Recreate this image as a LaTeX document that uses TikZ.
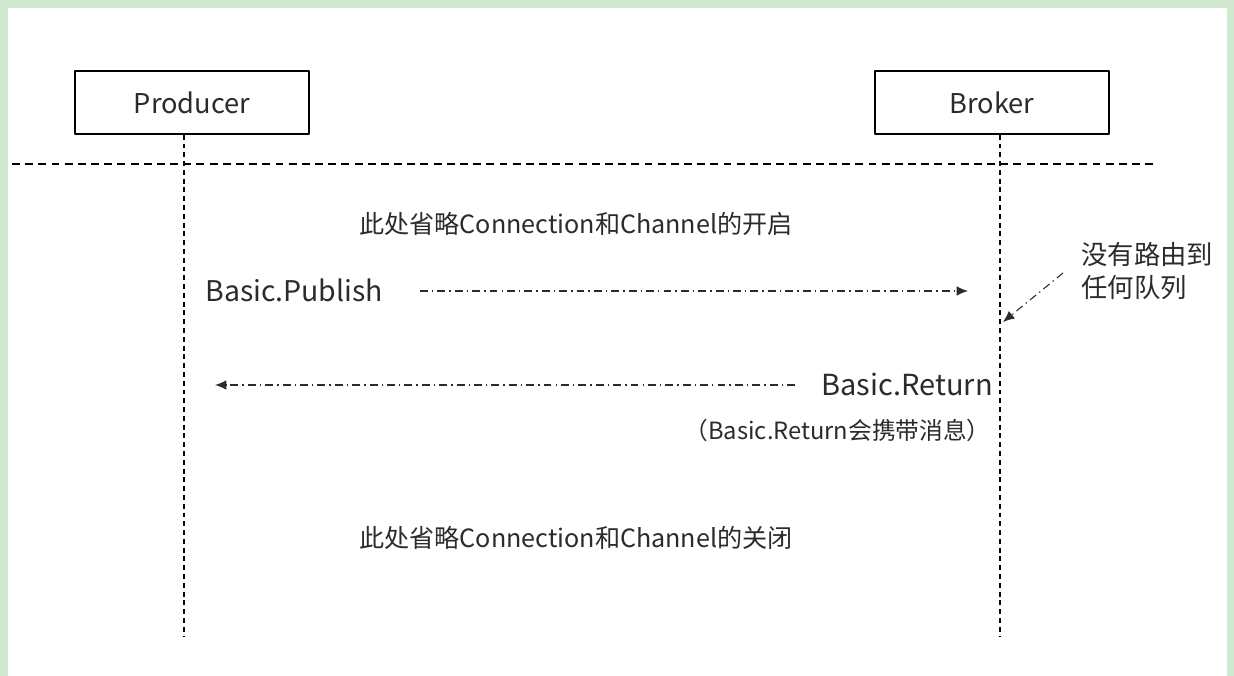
\documentclass[tikz,border=0pt]{standalone}
\usepackage{fontspec}
\setmainfont{Noto Sans CJK SC}
\usetikzlibrary{arrows.meta}
\definecolor{framegreen}{HTML}{CFE8CF}
\definecolor{inkgray}{HTML}{2B2B2B}

\begin{document}
\begin{tikzpicture}[x=0.02cm, y=-0.02cm, line join=round,
  actor/.style={draw, line width=0.9pt, minimum width=4.68cm, minimum height=1.26cm,
    inner sep=0pt, text=inkgray, font=\fontsize{15.5}{18}\selectfont},
  lifeline/.style={line width=0.6pt, dash pattern=on 2.8pt off 2.2pt},
  message/.style={line width=0.6pt, draw=inkgray, dash pattern=on 4.5pt off 2.3pt on 0.8pt off 2.3pt,
    -{Latex[length=6.5pt, width=5.5pt]}},
  label/.style={text=inkgray, inner sep=0pt}]

\useasboundingbox (0,0) rectangle (1234,676);
\fill[framegreen] (0,0) rectangle (1234,676);
\fill[white] (8,8) rectangle (1227,676);

\node[actor] (producer) at (192,102.5) {Producer};
\node[actor] (broker) at (992,102.5) {Broker};

\coordinate (pEnd) at (184,637);
\coordinate (bEnd) at (1000,637);
\coordinate (sepL) at (12,164);
\coordinate (sepR) at (1156,164);

\draw[lifeline] (producer.south -| pEnd) -- (pEnd);
\draw[lifeline] (broker.south -| bEnd) -- (bEnd);
\draw[line width=0.6pt, dash pattern=on 4.5pt off 3pt] (sepL) -- (sepR);

\node[label, font=\fontsize{14.3}{16}\selectfont] (open) at (576,224) {此处省略Connection和Channel的开启};

\node[label, anchor=west, font=\fontsize{16.2}{18}\selectfont] (publish) at (205,290) {Basic.Publish};
\coordinate (pubA) at (420,291);
\coordinate (pubB) at (968,291);
\draw[message] (pubA) -- (pubB);

\node[label, anchor=west, align=left, font=\fontsize{15}{18.5}\selectfont] (noroute) at (1081,271)
  {没有路由到\\任何队列};
\coordinate (noteA) at (1063,273);
\coordinate (noteB) at (1003,322);
\draw[message] (noteA) -- (noteB);

\node[label, anchor=east, font=\fontsize{16.5}{18}\selectfont] (return) at (993,384) {Basic.Return};
\coordinate (retA) at (795,385);
\coordinate (retB) at (215,385);
\draw[message] (retA) -- (retB);
\node[label, anchor=east, font=\fontsize{13.5}{15}\selectfont] (carry) at (991,430)
  {（Basic.Return会携带消息）};

\node[label, font=\fontsize{14.3}{16}\selectfont] (close) at (576,538) {此处省略Connection和Channel的关闭};

\end{tikzpicture}
\end{document}
